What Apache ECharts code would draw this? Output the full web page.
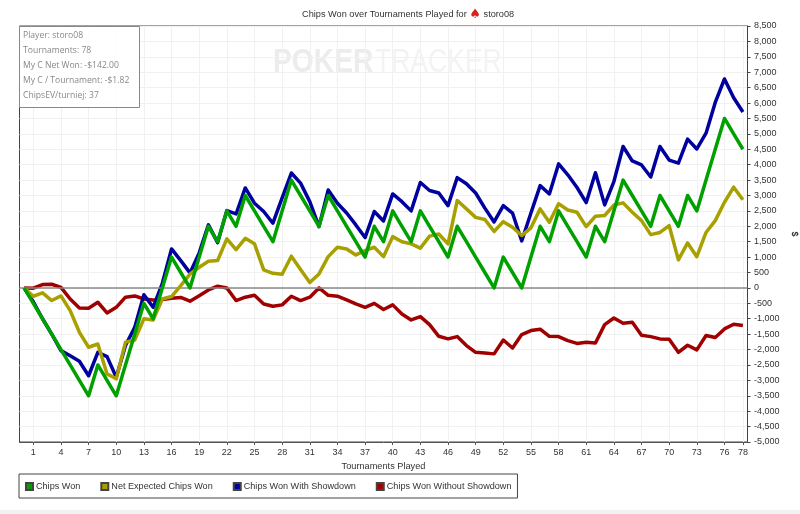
<!DOCTYPE html>
<html>
<head>
<meta charset="utf-8">
<script src="https://cdn.jsdelivr.net/npm/echarts@6/dist/echarts.min.js"></script>
<style>
  html, body { margin: 0; padding: 0; background: #fff; }
  #main { width: 800px; height: 514px; }
</style>
</head>
<body>
<div id="main"></div>
<script>
// index 0 is the starting point before tournament 1
const xTicks = [1, 4, 7, 10, 13, 16, 19, 22, 25, 28, 31, 34, 37, 40, 43, 46, 49, 52, 55, 58, 61, 64, 67, 70, 73, 76, 78];
const infoLines = ["Player: storo08", "Tournaments: 78", "My C Net Won: -$142.00", "My C / Tournament: -$1.82", "ChipsEV/turniej: 37"];

const chipsWon = [0, -500, -1000, -1500, -2000, -2500, -3000, -3500, -2500, -3000,
  -3500, -2500, -1500, -500, -1000, 0, 1000, 500, 0, 1000,
  2000, 1500, 2500, 2000, 3000, 2500, 2000, 1500, 2500, 3500,
  3000, 2500, 2000, 3000, 2500, 2000, 1500, 1000, 2000, 1500,
  2500, 2000, 1500, 2500, 2000, 1500, 1000, 2000, 1500, 1000,
  500, 0, 1000, 500, 0, 1000, 2000, 1500, 2500, 2000,
  1500, 1000, 2000, 1500, 2500, 3500, 3000, 2500, 2000, 3000,
  2500, 2000, 3000, 2500, 3500, 4500, 5500, 5000, 4500];
const netExpected = [0, -270, -160, -410, -260, -735, -1440, -1925, -1820, -2790,
  -2950, -1760, -1690, -1000, -1040, -360, -280, 75, 450, 670,
  865, 890, 1590, 1240, 1610, 1430, 585, 475, 445, 1030,
  595, 175, 455, 1015, 1320, 1265, 1070, 1210, 1320, 1015,
  1665, 1500, 1430, 1290, 1680, 1750, 1430, 2835, 2565, 2290,
  2220, 1830, 2150, 1970, 1700, 1950, 2565, 2130, 2730, 2530,
  2455, 1990, 2325, 2350, 2690, 2760, 2455, 2185, 1730, 1800,
  2020, 910, 1460, 1015, 1800, 2185, 2780, 3270, 2860];
const withShowdown = [0, -450, -1000, -1500, -2035, -2200, -2380, -2850, -2090, -2230,
  -2900, -1870, -1280, -220, -630, 150, 1266, 886, 487, 1136,
  2045, 1470, 2510, 2400, 3245, 2750, 2480, 2100, 2920, 3730,
  3400, 2800, 1990, 3180, 2750, 2430, 2045, 1635, 2480, 2175,
  3050, 2800, 2500, 3420, 3160, 3080, 2670, 3580, 3380, 3080,
  2590, 2140, 2670, 2430, 1525, 2430, 3320, 3050, 4025, 3670,
  3260, 2770, 3740, 2695, 3450, 4590, 4120, 3990, 3600, 4590,
  4150, 4050, 4830, 4510, 5020, 6020, 6780, 6170, 5710];
const withoutShowdown = [0, -10, 110, 120, 20, -360, -650, -660, -465, -810,
  -630, -300, -260, -360, -390, -380, -335, -310, -430, -250,
  -65, 55, 0, -410, -300, -240, -520, -595, -550, -270,
  -410, -300, 0, -240, -270, -390, -520, -630, -500, -700,
  -550, -845, -1040, -930, -1190, -1570, -1655, -1580, -1870, -2090,
  -2110, -2140, -1690, -1950, -1515, -1385, -1340, -1570, -1580, -1710,
  -1800, -1765, -1785, -1190, -975, -1145, -1115, -1535, -1580, -1655,
  -1665, -2090, -1860, -2010, -1545, -1610, -1330, -1180, -1220];

const font = "'Liberation Sans', Arial, sans-serif";
const infoFont = "'Open Sans', sans-serif";

const makeLine = (name, values, color, z) => ({
  name: name,
  type: "line",
  data: values.map((v, i) => [i, v]),
  symbol: "none",
  z: z,
  lineStyle: { color: color, width: 3.5, join: "round" },
  itemStyle: { color: color, borderColor: "#444", borderWidth: 1 },
});

const chart = echarts.init(document.getElementById("main"));

chart.setOption({
  animation: false,
  backgroundColor: "#fff",
  title: {
    text: "Chips Won over Tournaments Played for {s|♠} storo08",
    left: 302,
    top: 8,
    padding: 0,
    textStyle: {
      fontFamily: font,
      fontSize: 9.2,
      fontWeight: "normal",
      color: "#333",
      rich: { s: { color: "#d8211c", fontSize: 13, fontFamily: "'DejaVu Sans'" } },
    },
  },
  grid: {
    left: 19.5, right: 52.5, top: 26, bottom: 72,
    show: true, borderColor: "#444", borderWidth: 1,
    outerBoundsMode: "none",
  },
  legend: {
    left: 19,
    top: 474,
    padding: [8, 6, 7, 6],
    itemGap: 20,
    itemWidth: 7,
    itemHeight: 7,
    icon: "rect",
    borderColor: "#444",
    borderWidth: 1,
    textStyle: { fontFamily: font, fontSize: 9.1, color: "#333", padding: [0, 0, 0, -2] },
    data: ["Chips Won", "Net Expected Chips Won", "Chips Won With Showdown", "Chips Won Without Showdown"],
  },
  xAxis: {
    type: "value",
    min: -0.5,
    max: 78.5,
    name: "Tournaments Played",
    nameLocation: "middle",
    nameGap: 20,
    nameTextStyle: { fontFamily: font, fontSize: 9.2, color: "#333" },
    axisLine: { onZero: false, lineStyle: { color: "#555" } },
    axisTick: { customValues: xTicks, length: 3, lineStyle: { color: "#555" } },
    axisLabel: { customValues: xTicks, fontFamily: font, fontSize: 9, color: "#333", margin: 6 },
    splitLine: { show: true, lineStyle: { color: "#f1f1f1", width: 1 } },
  },
  yAxis: {
    type: "value",
    position: "right",
    min: -5000,
    max: 8500,
    interval: 500,
    name: "$",
    nameLocation: "middle",
    nameGap: 33,
    nameRotate: -90,
    nameTextStyle: { fontFamily: font, fontSize: 9, fontWeight: "bold", color: "#333" },
    axisLine: { show: true, onZero: false, lineStyle: { color: "#444" } },
    axisTick: { show: true, length: 3, lineStyle: { color: "#444" } },
    axisLabel: {
      fontFamily: font,
      fontSize: 9,
      color: "#333",
      margin: 6.5,
      formatter: (v) => v.toLocaleString("en-US"),
    },
    splitLine: { show: true, lineStyle: { color: "#f1f1f1", width: 1 } },
  },
  series: [
    makeLine("Chips Won", chipsWon, "#00a000", 6),
    makeLine("Net Expected Chips Won", netExpected, "#a8a000", 5),
    makeLine("Chips Won With Showdown", withShowdown, "#00009f", 4),
    makeLine("Chips Won Without Showdown", withoutShowdown, "#a00000", 3),
    {
      // zero line sits under the curves
      name: "zero",
      type: "line",
      data: [],
      z: 1,
      markLine: {
        silent: true,
        symbol: "none",
        label: { show: false },
        lineStyle: { color: "#888", width: 1.5, type: "solid" },
        data: [{ yAxis: 0 }],
      },
    },
  ],
  graphic: [
    {
      type: "text",
      x: 273,
      y: 46,
      scaleX: 0.83,
      z: 0,
      silent: true,
      style: { text: "POKER", fontFamily: font, fontSize: 34, fontWeight: "bold", fill: "#ececec" },
    },
    {
      type: "text",
      x: 375,
      y: 46,
      scaleX: 0.78,
      z: 0,
      silent: true,
      style: { text: "TRACKER", fontFamily: font, fontSize: 34, fill: "#f3f3f3" },
    },
    {
      type: "rect",
      shape: { x: 19.5, y: 26.5, width: 120, height: 81 },
      z: 10,
      silent: true,
      style: { fill: "rgba(255,255,255,0.85)", stroke: "#888", lineWidth: 1 },
    },
    ...infoLines.map((line, i) => ({
      type: "text",
      left: 23,
      top: 31 + i * 15,
      z: 11,
      silent: true,
      style: { text: line, fontFamily: infoFont, fontSize: 8.6, fill: "#888" },
    })),
    {
      type: "rect",
      shape: { x: 0, y: 510, width: 800, height: 4 },
      z: 0,
      silent: true,
      style: { fill: "#f2f2f2" },
    },
  ],
});
</script>
</body>
</html>
